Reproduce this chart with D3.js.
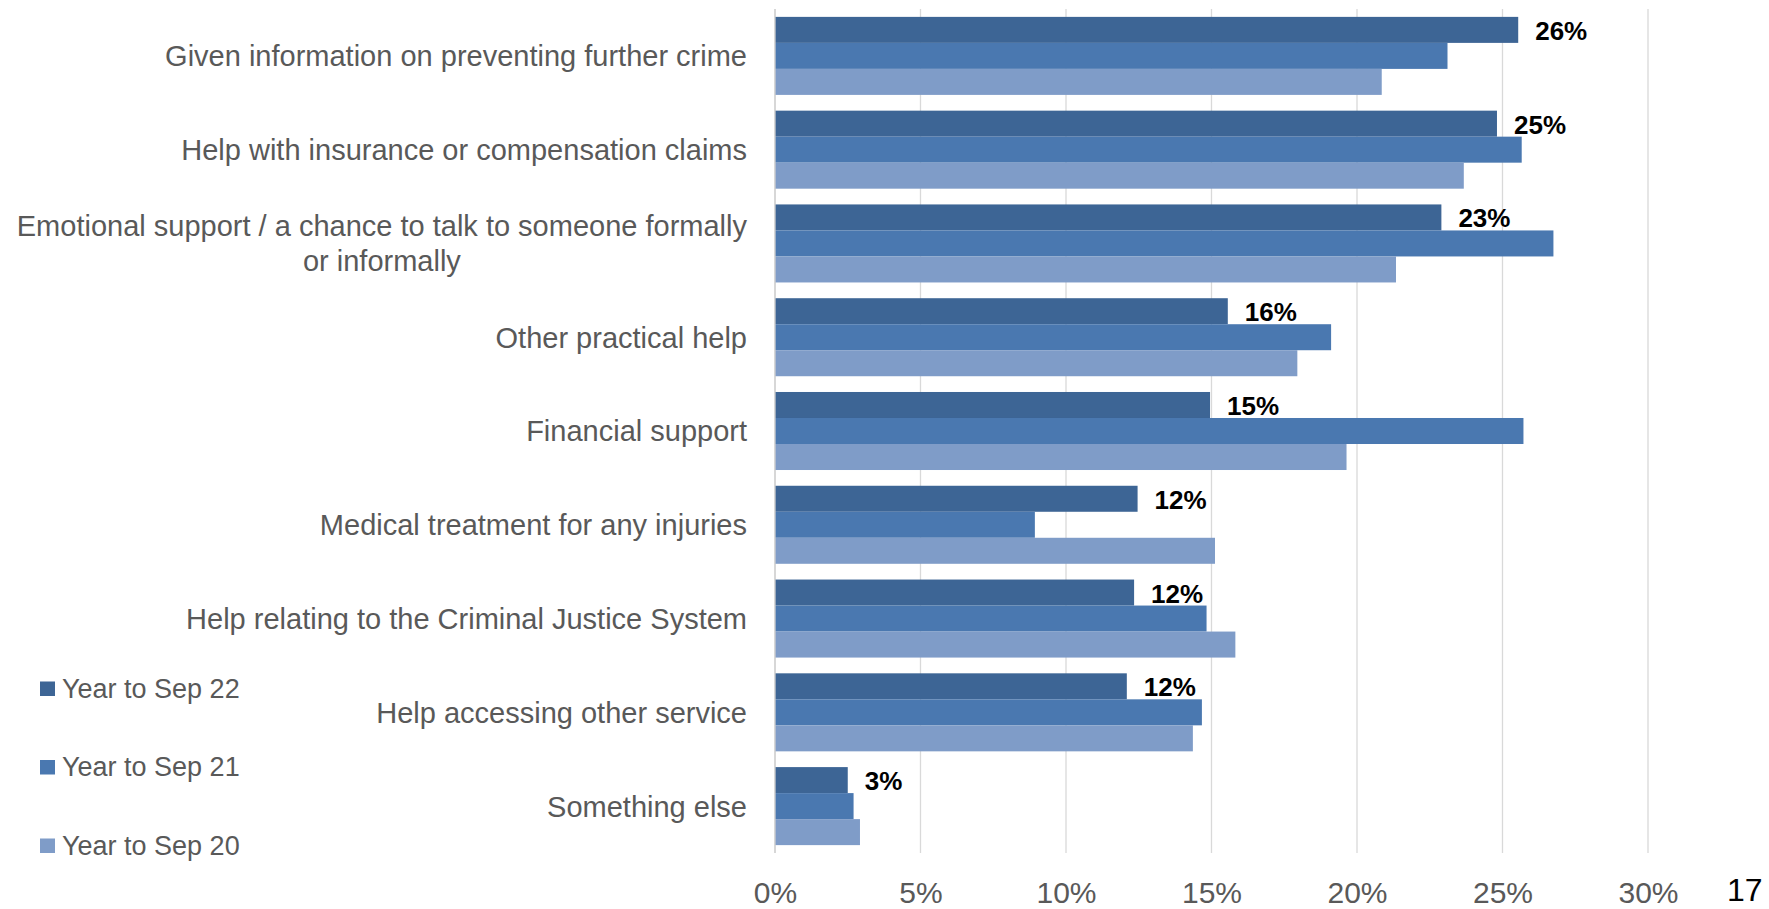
<!DOCTYPE html>
<html>
<head>
<meta charset="utf-8">
<script src="https://cdn.jsdelivr.net/npm/d3@7"></script>
<style>
  html, body { margin: 0; padding: 0; background: #ffffff; }
  svg { display: block; }
  text { font-family: "Liberation Sans", Arial, Helvetica, sans-serif; }
</style>
</head>
<body>
<svg id="chart" width="1769" height="909"></svg>
<script>
// ---- Data ----
const categories = [
  ["Given information on preventing further crime"],
  ["Help with insurance or compensation claims"],
  ["Emotional support / a chance to talk to someone formally", "or informally"],
  ["Other practical help"],
  ["Financial support"],
  ["Medical treatment for any injuries"],
  ["Help relating to the Criminal Justice System"],
  ["Help accessing other service"],
  ["Something else"]
];
const seriesNames = ["Year to Sep 22", "Year to Sep 21", "Year to Sep 20"];
const yearToSep22 = [25.54, 24.81, 22.90, 15.56, 14.95, 12.46, 12.34, 12.09, 2.50];
const yearToSep21 = [23.11, 25.66, 26.75, 19.11, 25.72, 8.93, 14.83, 14.67, 2.70];
const yearToSep20 = [20.85, 23.67, 21.34, 17.95, 19.64, 15.12, 15.82, 14.36, 2.92];
const sep22Labels = ["26%", "25%", "23%", "16%", "15%", "12%", "12%", "12%", "3%"];
const xTicks = [0, 5, 10, 15, 20, 25, 30];
const pageNumber = "17";

const colors = ["#3d6595", "#4a78b0", "#7f9cc8"];

// ---- Layout ----
const svg = d3.select("#chart");
svg.append("rect").attr("width", 1769).attr("height", 909).attr("fill", "#ffffff");

const plot = { left: 775, right: 1648, top: 9, bottom: 853 };

const x = d3.scaleLinear().domain([0, 30]).range([plot.left, plot.right]);
const idx = d3.range(categories.length);
const y = d3.scaleBand().domain(idx).range([plot.top, plot.bottom])
  .paddingInner(0.168).paddingOuter(0.084);
const ySub = d3.scaleBand().domain([0, 1, 2]).range([0, y.bandwidth()]);

// gridlines
svg.append("g").selectAll("line").data(xTicks).join("line")
  .attr("x1", d => x(d)).attr("x2", d => x(d))
  .attr("y1", plot.top).attr("y2", plot.bottom)
  .attr("stroke", "#d9d9d9").attr("stroke-width", 1.3);

// bars
const series = [yearToSep22, yearToSep21, yearToSep20];
const gBars = svg.append("g");
series.forEach((vals, s) => {
  gBars.append("g").selectAll("rect").data(vals).join("rect")
    .attr("x", x(0))
    .attr("y", (d, i) => y(i) + ySub(s))
    .attr("width", d => x(d) - x(0))
    .attr("height", ySub.bandwidth())
    .attr("fill", colors[s]);
});

// zero axis line
svg.append("line")
  .attr("x1", x(0)).attr("x2", x(0))
  .attr("y1", plot.top).attr("y2", plot.bottom)
  .attr("stroke", "#d0d0d0").attr("stroke-width", 1.3);

// data labels for Sep 22
svg.append("g").selectAll("text").data(yearToSep22).join("text")
  .attr("x", d => x(d) + 17)
  .attr("y", (d, i) => y(i) + ySub(0) + ySub.bandwidth() / 2 + 10)
  .attr("font-size", 26).attr("font-weight", "bold").attr("fill", "#000000")
  .text((d, i) => sep22Labels[i]);

// x axis tick labels
const xAxis = d3.axisBottom(x).tickValues(xTicks).tickSize(0).tickPadding(0)
  .tickFormat(d => d + "%");
const gx = svg.append("g").attr("transform", `translate(0, 881)`).call(xAxis);
gx.select(".domain").remove();
gx.selectAll("text")
  .attr("font-size", 30).attr("fill", "#595959")
  .attr("font-family", "Liberation Sans, Arial, sans-serif")
  .attr("dy", null).attr("y", 22);

// category labels
const labelRight = 747;
const gCat = svg.append("g");
categories.forEach((lines, i) => {
  const cy = y(i) + y.bandwidth() / 2;
  const lh = 35;
  const first = cy + 10.4 - (lines.length - 1) * lh / 2;
  const t = gCat.append("text")
    .attr("font-size", 29).attr("fill", "#595959");
  if (lines.length === 1) {
    t.attr("text-anchor", "end").attr("x", labelRight).attr("y", first).text(lines[0]);
  } else {
    const t1 = t.append("tspan").attr("text-anchor", "end").attr("x", labelRight).attr("y", first).text(lines[0]);
    const w1 = t1.node().getComputedTextLength();
    const cx = labelRight - w1 / 2;
    lines.slice(1).forEach((ln, k) => {
      t.append("tspan").attr("text-anchor", "middle").attr("x", cx)
        .attr("y", first + (k + 1) * lh).text(ln);
    });
  }
});

// legend
const legendTop = [681.5, 760, 838.5];
const gLeg = svg.append("g");
seriesNames.forEach((name, s) => {
  gLeg.append("rect").attr("x", 40).attr("y", legendTop[s]).attr("width", 15).attr("height", 14.5)
    .attr("fill", colors[s]);
  gLeg.append("text").attr("x", 62).attr("y", legendTop[s] + 16)
    .attr("font-size", 27).attr("fill", "#595959").text(name);
});

// page number
svg.append("text").attr("x", 1727).attr("y", 901)
  .attr("font-size", 32).attr("fill", "#000000").text(pageNumber);
</script>
</body>
</html>
